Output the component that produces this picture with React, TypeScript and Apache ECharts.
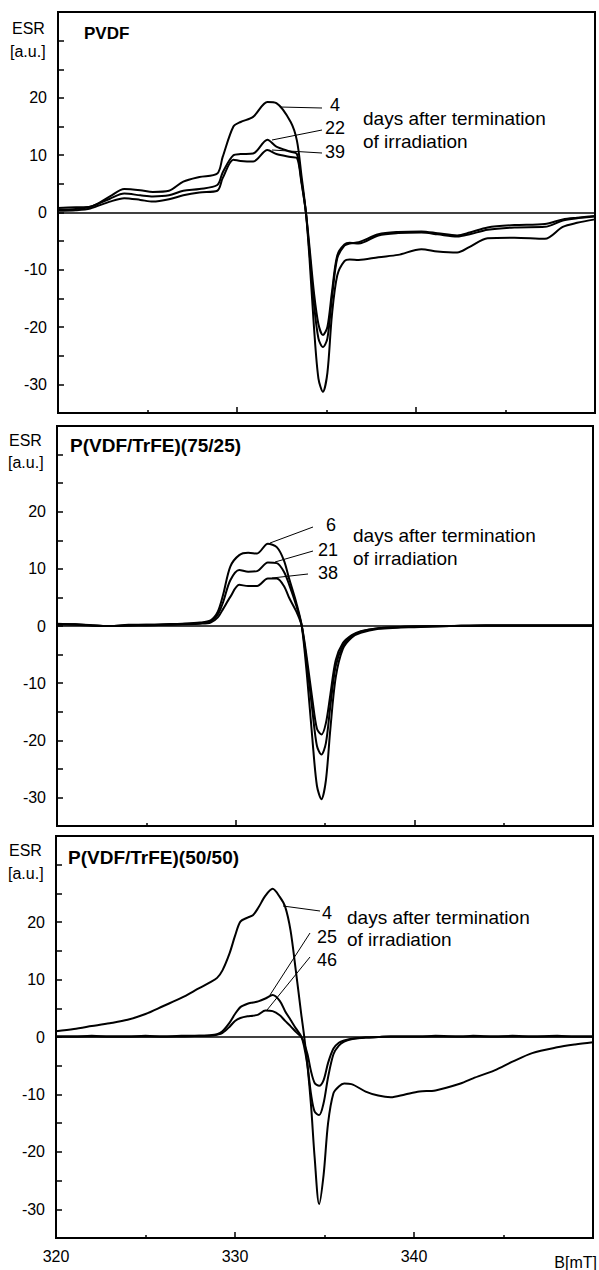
import React, { useEffect, useRef } from "react";
import * as echarts from "echarts";

// ---------- Panel 1: PVDF ----------
const x1 = [320, 321, 321.8, 322.9, 323.7, 324.6, 325.3, 326.2, 327.0, 327.9, 328.9, 329.2, 329.8, 330.2, 330.9, 331.7, 332.2, 333.0, 333.35, 333.6, 333.85, 334.05, 334.3, 334.55, 334.8, 335.05, 335.3, 335.6, 336.0, 336.3, 336.8, 337.9, 339.0, 340.3, 341.2, 342.3, 343.0, 344.0, 345.5, 347.2, 348.2, 349.0, 350];
const p1_d4 = [0.8, 0.9, 1.0, 2.8, 4.1, 3.9, 3.6, 3.8, 5.4, 6.2, 6.8, 9.7, 15.0, 15.8, 16.7, 19.3, 19.1, 15.8, 12.5, 6.5, 0, -8, -20, -29, -31.3, -28, -18, -11, -8.5, -8.2, -8.3, -7.8, -7.4, -6.4, -6.8, -7.0, -6.0, -4.5, -4.4, -4.6, -2.5, -1.8, -1.2];
const p1_d22 = [0.5, 0.6, 1.0, 2.4, 3.3, 3.0, 2.8, 3.0, 3.8, 4.1, 4.8, 7.0, 10.0, 10.2, 10.3, 12.7, 11.5, 10.6, 10.2, 5.5, 0, -7, -16, -22, -23.5, -22, -15, -8, -5.8, -5.4, -5.2, -3.8, -3.4, -3.3, -3.6, -4.0, -3.5, -2.6, -2.2, -2.0, -1.2, -0.9, -0.6];
const p1_d39 = [0.3, 0.4, 0.7, 1.9, 2.5, 2.2, 1.9, 2.3, 3.0, 3.5, 3.8, 6.0, 9.2, 9.0, 8.9, 10.9, 10.2, 9.7, 9.5, 5.2, 0, -6, -14, -19.5, -21.4, -20, -14, -7.5, -5.6, -5.3, -5.4, -4.0, -3.6, -3.5, -3.8, -4.2, -3.8, -3.0, -2.6, -2.5, -1.4, -1.0, -0.7];

// ---------- Panel 2: P(VDF/TrFE)(75/25) ----------
const x2 = [320, 321, 322, 323, 324, 325, 326, 327, 328, 328.6, 329.0, 329.3, 329.7, 330.2, 330.7, 331.2, 331.8, 332.3, 332.7, 333.0, 333.4, 333.7, 334.0, 334.3, 334.55, 334.8, 335.05, 335.3, 335.6, 336.0, 336.5, 337, 338, 339, 340, 342, 344, 346, 348, 350];
const p2_d6 = [0.4, 0.3, 0.1, 0.0, 0.2, 0.2, 0.3, 0.4, 0.6, 1.0, 2.5, 5.5, 10.4, 12.4, 12.8, 12.7, 14.4, 13.8, 11.5, 8.2, 4.0, 0, -9, -20, -28, -30.3, -27, -18, -9, -4, -2, -1.2, -0.5, -0.3, -0.2, 0, 0.1, 0.1, 0.1, 0.1];
const p2_d21 = [0.3, 0.3, 0.1, 0.0, 0.1, 0.2, 0.2, 0.3, 0.5, 0.8, 2.0, 4.2, 8.0, 9.8, 9.5, 9.6, 11.1, 11.0, 9.5, 7.2, 3.5, 0, -7, -15, -21, -22.5, -20.5, -14, -7, -3.5, -1.8, -1.0, -0.4, -0.2, -0.1, 0, 0.1, 0.1, 0.1, 0.1];
const p2_d38 = [0.3, 0.2, 0.1, 0.0, 0.1, 0.1, 0.2, 0.3, 0.4, 0.6, 1.5, 3.0, 5.1, 7.2, 7.0, 7.0, 8.3, 8.3, 7.0, 4.9, 2.5, 0, -6, -13, -18, -19, -17, -12, -6, -3, -1.6, -0.9, -0.4, -0.2, -0.1, 0, 0.1, 0.1, 0.1, 0.1];

// ---------- Panel 3: P(VDF/TrFE)(50/50) ----------
const x3 = [320, 321, 322, 323, 324, 325, 326, 327, 328, 328.6, 329.0, 329.3, 329.7, 330.0, 330.3, 330.7, 331.0, 331.3, 331.7, 332.1, 332.5, 332.8, 333.1, 333.4, 333.7, 333.85, 334.05, 334.25, 334.45, 334.7, 334.95, 335.2, 335.5, 335.8, 336.1, 336.5, 337.3, 338, 338.7, 339.5, 340.3, 341.2, 342.6, 343.3, 344.5, 345.5, 346.6, 348, 349, 350];
const p3_d4 = [1.0, 1.4, 1.9, 2.4, 3.0, 4.0, 5.4, 6.8, 8.5, 9.5, 10.3, 11.6, 14.6, 17.6, 20.1, 20.8, 21.2, 22.5, 24.6, 25.8, 24.4, 22.7, 18.6, 11.5, 4.0, 0.5, -5, -12, -21, -29.1, -24, -15, -9.8, -8.6, -8.1, -8.2, -9.5, -10.2, -10.5, -10.0, -9.5, -9.3, -8.1, -7.2, -5.8, -4.3, -2.8, -1.8, -1.3, -0.9];
const p3_d25 = [0.1, 0.1, 0.2, 0.1, 0.1, 0.2, 0.1, 0.2, 0.2, 0.3, 0.5, 1.0, 2.5, 4.0, 5.2, 5.8, 6.0, 6.2, 6.7, 7.3, 6.3, 4.5, 3.0, 1.5, 0.1, -1.5, -5, -10, -13, -13.6, -11.5, -7, -3, -1.5, -0.8, -0.4, -0.1, 0, 0.1, 0.1, 0.1, 0.2, 0.1, 0.2, 0.1, 0.2, 0.1, 0.2, 0.1, 0.1];
const p3_d46 = [0.1, 0.1, 0.1, 0.1, 0.1, 0.1, 0.1, 0.1, 0.2, 0.2, 0.4, 0.7, 1.8, 2.8, 3.3, 3.6, 3.7, 3.9, 4.6, 4.5, 3.8, 2.8, 1.9, 0.9, 0.0, -1, -3, -6, -8, -8.5, -7.5, -4.5, -2, -1, -0.6, -0.3, -0.1, 0, 0.1, 0.1, 0.1, 0.1, 0.1, 0.1, 0.1, 0.1, 0.1, 0.1, 0.1, 0.1];

const panelTitles = ["PVDF", "P(VDF/TrFE)(75/25)", "P(VDF/TrFE)(50/50)"];
const dayLabels = [["4", "22", "39"], ["6", "21", "38"], ["4", "25", "46"]];
const xTickLabels = [320, 330, 340];
const yTickLabels = [20, 10, 0, -10, -20, -30];

const FONT = "'Liberation Sans', Arial, Helvetica, sans-serif";

const zip = (xs: number[], ys: number[]) => xs.map((x, i) => [x, ys[i]]);

export default function App() {
  const ref = useRef<HTMLDivElement>(null);
  useEffect(() => {
    document.body.style.margin = "0";
    const chart = echarts.init(ref.current!, null, { renderer: "svg" });

    const grids = [
      { left: 58, top: 12, width: 537, height: 401 },
      { left: 57, top: 426, width: 536, height: 400 },
      { left: 56, top: 836, width: 537, height: 402 },
    ];

    const panels = [
      { x: x1, ys: [p1_d4, p1_d22, p1_d39] },
      { x: x2, ys: [p2_d6, p2_d21, p2_d38] },
      { x: x3, ys: [p3_d4, p3_d25, p3_d46] },
    ];

    const xAxes = grids.map((_, i) => ({
      type: "value",
      gridIndex: i,
      min: 320,
      max: 350,
      interval: 10,
      axisLine: { onZero: false, lineStyle: { color: "#000", width: 2 } },
      axisTick: { inside: true, length: 6, lineStyle: { color: "#000", width: 1.5 } },
      minorTick: { show: true, splitNumber: 2, length: 3, lineStyle: { color: "#000", width: 1.5 } },
      splitLine: { show: false },
      axisLabel: {
        show: i === 2,
        color: "#000",
        fontSize: 16,
        fontFamily: FONT,
        margin: 10,
        formatter: (v: number) => (xTickLabels.includes(v) ? String(v) : ""),
      },
    }));

    const yAxes = grids.map((_, i) => ({
      type: "value",
      gridIndex: i,
      min: -35,
      max: 35,
      interval: 5,
      axisLine: { lineStyle: { color: "#000", width: 2 } },
      axisTick: { inside: true, length: 6, lineStyle: { color: "#000", width: 1.5 } },
      splitLine: { show: false },
      axisLabel: {
        color: "#000",
        fontSize: 16,
        fontFamily: FONT,
        margin: 11,
        formatter: (v: number) => (yTickLabels.includes(v) ? String(v) : ""),
      },
    }));

    const series: any[] = [];
    panels.forEach((p, gi) => {
      p.ys.forEach((ys, si) => {
        series.push({
          type: "line",
          name: panelTitles[gi] + " " + dayLabels[gi][si],
          xAxisIndex: gi,
          yAxisIndex: gi,
          data: zip(p.x, ys),
          showSymbol: false,
          smooth: 0.3,
          lineStyle: { color: "#000", width: 2 },
          markLine:
            si === 0
              ? {
                  silent: true,
                  symbol: ["none", "none"],
                  label: { show: false },
                  lineStyle: { color: "#000", width: 1.5, type: "solid" },
                  data: [{ yAxis: 0 }],
                }
              : undefined,
        });
      });
    });

    const txt = (x: number, y: number, text: string, opts: any = {}) => ({
      type: "text",
      x,
      y,
      style: {
        text,
        fill: "#000",
        font: `${opts.bold ? "bold " : ""}${opts.size || 16}px ${FONT}`,
        textAlign: opts.align || "left",
        textVerticalAlign: "middle",
      },
    });
    const ln = (x1: number, y1: number, x2: number, y2: number) => ({
      type: "line",
      shape: { x1, y1, x2, y2 },
      style: { stroke: "#000", lineWidth: 1 },
    });

    const graphic: any[] = [
      // axis unit labels
      txt(12, 28, "ESR"), txt(10, 51, "[a.u.]"),
      txt(9, 440, "ESR"), txt(8, 462, "[a.u.]"),
      txt(9, 850, "ESR"), txt(8, 873, "[a.u.]"),
      // titles
      txt(84, 33, panelTitles[0], { bold: true, size: 17 }),
      txt(70, 445, panelTitles[1], { bold: true, size: 19 }),
      txt(68, 857, panelTitles[2], { bold: true, size: 19 }),
      // panel 1 annotations
      ln(280, 107, 322, 108), ln(272, 140, 322, 130), ln(272, 150, 322, 153),
      txt(335, 105, dayLabels[0][0], { size: 18, align: "center" }),
      txt(335, 128, dayLabels[0][1], { size: 18, align: "center" }),
      txt(335, 152, dayLabels[0][2], { size: 18, align: "center" }),
      txt(363, 118, "days after termination", { size: 19 }),
      txt(363, 141, "of irradiation", { size: 19 }),
      // panel 2 annotations
      ln(270, 543, 313, 527), ln(275, 562, 313, 551), ln(272, 578, 308, 574),
      txt(331, 525, dayLabels[1][0], { size: 18, align: "center" }),
      txt(328, 550, dayLabels[1][1], { size: 18, align: "center" }),
      txt(328, 573, dayLabels[1][2], { size: 18, align: "center" }),
      txt(353, 535, "days after termination", { size: 19 }),
      txt(353, 558, "of irradiation", { size: 19 }),
      // panel 3 annotations
      ln(283, 906, 320, 911), ln(270, 995, 310, 933), ln(267, 1010, 310, 957),
      txt(327, 913, dayLabels[2][0], { size: 18, align: "center" }),
      txt(327, 937, dayLabels[2][1], { size: 18, align: "center" }),
      txt(327, 960, dayLabels[2][2], { size: 18, align: "center" }),
      txt(347, 917, "days after termination", { size: 19 }),
      txt(347, 939, "of irradiation", { size: 19 }),
      // x axis name
      txt(597, 1262, "B[mT]", { align: "right" }),
    ];

    chart.setOption({
      animation: false,
      backgroundColor: "#fff",
      grid: grids.map((g) => ({ ...g, show: true, borderColor: "#000", borderWidth: 2, containLabel: false })),
      xAxis: xAxes,
      yAxis: yAxes,
      series,
      graphic,
    });
    return () => chart.dispose();
  }, []);
  return <div ref={ref} style={{ width: 599, height: 1270 }} />;
}
